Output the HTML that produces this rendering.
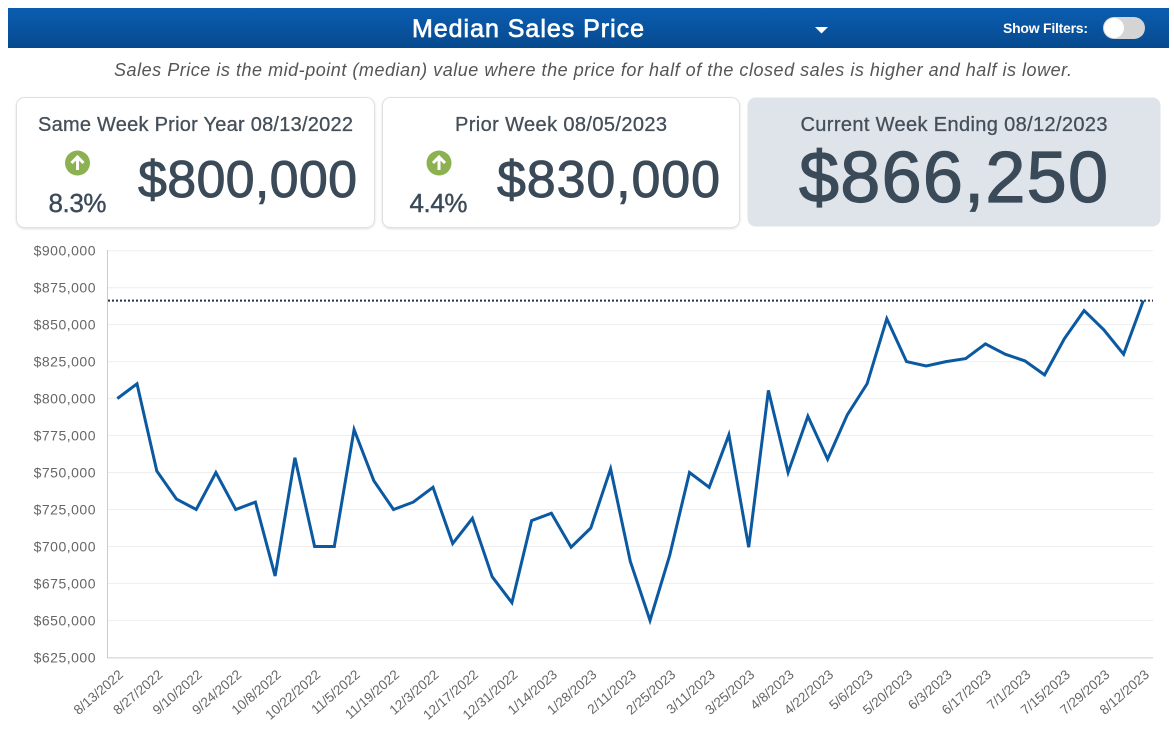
<!DOCTYPE html>
<html><head><meta charset="utf-8">
<style>
html,body{margin:0;padding:0;background:#fff;width:1174px;height:731px;overflow:hidden;}
svg{display:block;font-family:"Liberation Sans",sans-serif;}
</style></head>
<body>
<svg width="1174" height="731" viewBox="0 0 1174 731" xmlns="http://www.w3.org/2000/svg">
<defs>
<linearGradient id="hg" x1="0" y1="0" x2="0" y2="1">
<stop offset="0" stop-color="#0b5db1"/>
<stop offset="1" stop-color="#064a8e"/>
</linearGradient>
<filter id="sh" x="-5%" y="-5%" width="110%" height="115%">
<feDropShadow dx="0" dy="1" stdDeviation="1" flood-color="#000" flood-opacity="0.12"/>
</filter>
</defs>
<!-- header -->
<rect x="8" y="8" width="1161" height="40" fill="url(#hg)"/>
<text x="528" y="37" text-anchor="middle" font-size="25" fill="#fff" stroke="#fff" stroke-width="0.7" textLength="232">Median Sales Price</text>
<polygon points="815,27 828,27 821.5,33.5" fill="#fff"/>
<text x="1003" y="33" font-size="14" font-weight="bold" fill="#fff" textLength="85">Show Filters:</text>
<rect x="1103" y="17" width="42" height="22" rx="11" fill="#d4d4d4"/>
<circle cx="1114" cy="28" r="10" fill="#fff"/>
<!-- subtitle -->
<text x="593" y="76" text-anchor="middle" font-size="18" font-style="italic" fill="#555" textLength="958">Sales Price is the mid-point (median) value where the price for half of the closed sales is higher and half is lower.</text>

<!-- card 1 -->
<rect x="16.5" y="97.5" width="358" height="130" rx="8" fill="#fff" stroke="#e0e0e0" filter="url(#sh)"/>
<text x="195.5" y="131" text-anchor="middle" font-size="20" fill="#454f59" stroke="#454f59" stroke-width="0.3" textLength="315">Same Week Prior Year 08/13/2022</text>
<circle cx="77.5" cy="163" r="12.5" fill="#8cb150"/>
<line x1="77.5" y1="170" x2="77.5" y2="157.5" stroke="#fff" stroke-width="3"/>
<polyline points="71.5,163 77.5,157 83.5,163" fill="none" stroke="#fff" stroke-width="3"/>
<text x="77.5" y="212" text-anchor="middle" font-size="26" fill="#3b4a58" stroke="#3b4a58" stroke-width="0.4" textLength="58">8.3%</text>
<text x="138" y="197" font-size="52" fill="#3b4a58" stroke="#3b4a58" stroke-width="0.9" textLength="219">$800,000</text>

<!-- card 2 -->
<rect x="382.5" y="97.5" width="357" height="130" rx="8" fill="#fff" stroke="#e0e0e0" filter="url(#sh)"/>
<text x="561" y="131" text-anchor="middle" font-size="20" fill="#454f59" stroke="#454f59" stroke-width="0.3" textLength="212">Prior Week 08/05/2023</text>
<circle cx="439" cy="163" r="12.5" fill="#8cb150"/>
<line x1="439" y1="170" x2="439" y2="157.5" stroke="#fff" stroke-width="3"/>
<polyline points="433,163 439,157 445,163" fill="none" stroke="#fff" stroke-width="3"/>
<text x="438.5" y="212" text-anchor="middle" font-size="26" fill="#3b4a58" stroke="#3b4a58" stroke-width="0.4" textLength="58">4.4%</text>
<text x="497" y="197" font-size="52" fill="#3b4a58" stroke="#3b4a58" stroke-width="0.9" textLength="223">$830,000</text>

<!-- card 3 -->
<rect x="747.5" y="97.5" width="413" height="129" rx="8" fill="#dee4ea"/>
<text x="954" y="131" text-anchor="middle" font-size="20" fill="#454f59" stroke="#454f59" stroke-width="0.3" textLength="307">Current Week Ending 08/12/2023</text>
<text x="799" y="202" font-size="72" fill="#3b4a58" stroke="#3b4a58" stroke-width="1.2" textLength="309">$866,250</text>

<!-- chart grid -->
<g stroke="#eeeeee" stroke-width="1">
<line x1="108" x2="1153" y1="250.7" y2="250.7"/>
<line x1="108" x2="1153" y1="287.7" y2="287.7"/>
<line x1="108" x2="1153" y1="324.6" y2="324.6"/>
<line x1="108" x2="1153" y1="361.6" y2="361.6"/>
<line x1="108" x2="1153" y1="398.6" y2="398.6"/>
<line x1="108" x2="1153" y1="435.5" y2="435.5"/>
<line x1="108" x2="1153" y1="472.5" y2="472.5"/>
<line x1="108" x2="1153" y1="509.5" y2="509.5"/>
<line x1="108" x2="1153" y1="546.5" y2="546.5"/>
<line x1="108" x2="1153" y1="583.4" y2="583.4"/>
<line x1="108" x2="1153" y1="620.4" y2="620.4"/>
</g>
<line x1="107.5" y1="250" x2="107.5" y2="658" stroke="#cccccc" stroke-width="1"/>
<line x1="107" y1="657.9" x2="1153" y2="657.9" stroke="#cccccc" stroke-width="1"/>

<!-- y labels -->
<g font-size="14" fill="#666" text-anchor="end" letter-spacing="0.5">
<text x="96" y="255.7">$900,000</text>
<text x="96" y="292.7">$875,000</text>
<text x="96" y="329.6">$850,000</text>
<text x="96" y="366.6">$825,000</text>
<text x="96" y="403.6">$800,000</text>
<text x="96" y="440.5">$775,000</text>
<text x="96" y="477.5">$750,000</text>
<text x="96" y="514.5">$725,000</text>
<text x="96" y="551.5">$700,000</text>
<text x="96" y="588.4">$675,000</text>
<text x="96" y="625.4">$650,000</text>
<text x="96" y="662.4">$625,000</text>
</g>

<!-- dotted reference -->
<line x1="108" y1="300.6" x2="1153" y2="300.6" stroke="#1d3557" stroke-width="2" stroke-dasharray="2,2"/>

<!-- series -->
<polyline fill="none" stroke="#0b59a1" stroke-width="3" stroke-linejoin="miter" points="117.3,398.6 137.0,383.8 156.8,471.0 176.5,499.1 196.2,509.5 215.9,472.5 235.7,509.5 255.4,502.1 275.1,576.0 294.9,457.7 314.6,546.5 334.3,546.5 354.1,429.6 373.8,480.7 393.5,509.5 413.3,502.1 433.0,487.3 452.7,543.5 472.4,518.4 492.2,576.8 511.9,602.7 531.6,520.6 551.4,513.2 571.1,547.2 590.8,528.0 610.6,468.8 630.3,561.3 650.0,620.4 669.7,555.3 689.5,472.5 709.2,487.3 728.9,434.8 748.7,547.2 768.4,390.4 788.1,472.5 807.9,416.3 827.6,459.2 847.3,414.8 867.1,383.8 886.8,318.7 906.5,361.6 926.2,366.0 946.0,361.6 965.7,358.6 985.4,343.9 1005.2,354.2 1024.9,360.9 1044.6,374.9 1064.4,338.7 1084.1,310.6 1103.8,329.8 1123.6,354.2 1143.3,300.6"/>

<!-- x labels -->
<g font-size="13.5" fill="#666" text-anchor="end">
<text transform="translate(124,676) rotate(-41)">8/13/2022</text>
<text transform="translate(163.5,676) rotate(-41)">8/27/2022</text>
<text transform="translate(202.9,676) rotate(-41)">9/10/2022</text>
<text transform="translate(242.4,676) rotate(-41)">9/24/2022</text>
<text transform="translate(281.8,676) rotate(-41)">10/8/2022</text>
<text transform="translate(321.3,676) rotate(-41)">10/22/2022</text>
<text transform="translate(360.8,676) rotate(-41)">11/5/2022</text>
<text transform="translate(400.2,676) rotate(-41)">11/19/2022</text>
<text transform="translate(439.7,676) rotate(-41)">12/3/2022</text>
<text transform="translate(479.1,676) rotate(-41)">12/17/2022</text>
<text transform="translate(518.6,676) rotate(-41)">12/31/2022</text>
<text transform="translate(558.1,676) rotate(-41)">1/14/2023</text>
<text transform="translate(597.5,676) rotate(-41)">1/28/2023</text>
<text transform="translate(637.0,676) rotate(-41)">2/11/2023</text>
<text transform="translate(676.4,676) rotate(-41)">2/25/2023</text>
<text transform="translate(715.9,676) rotate(-41)">3/11/2023</text>
<text transform="translate(755.4,676) rotate(-41)">3/25/2023</text>
<text transform="translate(794.8,676) rotate(-41)">4/8/2023</text>
<text transform="translate(834.3,676) rotate(-41)">4/22/2023</text>
<text transform="translate(873.8,676) rotate(-41)">5/6/2023</text>
<text transform="translate(913.2,676) rotate(-41)">5/20/2023</text>
<text transform="translate(952.7,676) rotate(-41)">6/3/2023</text>
<text transform="translate(992.1,676) rotate(-41)">6/17/2023</text>
<text transform="translate(1031.6,676) rotate(-41)">7/1/2023</text>
<text transform="translate(1071.1,676) rotate(-41)">7/15/2023</text>
<text transform="translate(1110.5,676) rotate(-41)">7/29/2023</text>
<text transform="translate(1150,676) rotate(-41)">8/12/2023</text>
</g>
</svg>
</body></html>
